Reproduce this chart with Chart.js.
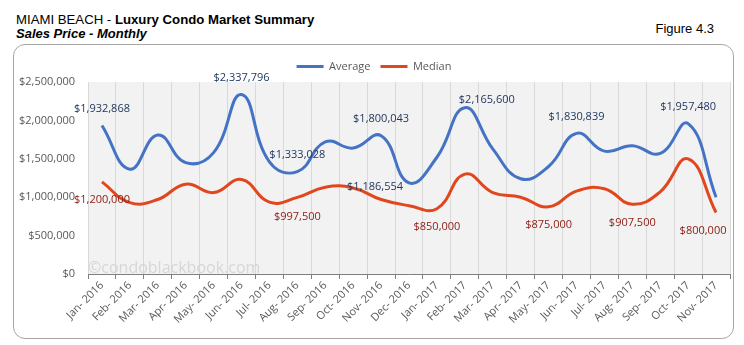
<!DOCTYPE html>
<html>
<head>
<meta charset="utf-8">
<script src="https://cdn.jsdelivr.net/npm/chart.js@4.4.0/dist/chart.umd.min.js"></script>
<style>
  body { margin: 0; background: #fff; }
  #wrap { position: relative; width: 744px; height: 345px; overflow: hidden; font-family: "Liberation Sans", Arial, sans-serif; }
  #frame { position: absolute; left: 13px; top: 44px; width: 721px; height: 295px; box-sizing: border-box; border: 1px solid #a6a6a6; border-radius: 12px; }
  #title { position: absolute; left: 16px; top: 12px; font-size: 13.2px; line-height: 16px; color: #000; white-space: nowrap; }
  #title b { font-weight: bold; }
  #subtitle { position: absolute; left: 16px; top: 26px; font-size: 13px; line-height: 15px; font-weight: bold; font-style: italic; white-space: nowrap; }
  #figure { position: absolute; right: 30px; top: 21px; font-size: 13px; line-height: 15px; white-space: nowrap; }
  canvas { position: absolute; left: 0; top: 0; }
</style>
</head>
<body>
<div id="wrap">
  <div id="frame"></div>
  <div id="title">MIAMI BEACH - <b>Luxury Condo Market Summary</b></div>
  <div id="subtitle">Sales Price - Monthly</div>
  <div id="figure">Figure 4.3</div>
  <canvas id="chart" width="744" height="345"></canvas>
</div>
<script>
// ---- data ----
const months = [
  "Jan- 2016", "Feb- 2016", "Mar- 2016", "Apr- 2016", "May- 2016", "Jun- 2016",
  "Jul- 2016", "Aug- 2016", "Sep- 2016", "Oct- 2016", "Nov- 2016", "Dec- 2016",
  "Jan- 2017", "Feb- 2017", "Mar- 2017", "Apr- 2017", "May- 2017", "Jun- 2017",
  "Jul- 2017", "Aug- 2017", "Sep- 2017", "Oct- 2017", "Nov- 2017"
];
const averagePrice = [
  1932868, 1365000, 1810000, 1450000, 1580000, 2337796,
  1460000, 1333028, 1720000, 1640000, 1800043, 1186554,
  1520000, 2165600, 1630000, 1240000, 1400000, 1830839,
  1600000, 1670000, 1570000, 1957480, 1000000
];
const medianPrice = [
  1200000, 930000, 970000, 1170000, 1060000, 1230000,
  935000, 997500, 1130000, 1120000, 970000, 890000,
  850000, 1300000, 1060000, 1000000, 875000, 1080000,
  1110000, 907500, 1070000, 1500000, 800000
];
const yTicks = [0, 500000, 1000000, 1500000, 2000000, 2500000];
// points that carry a value label
const averageLabelIdx = [0, 5, 7, 10, 11, 13, 17, 21];
const medianLabelIdx = [0, 7, 12, 16, 19, 22];

// label placement (pixels from the point)
const labelOffsets = {
  0: { 0: [0, -17], 5: [0, -17], 7: [0, -17], 10: [0, -17], 11: [-6, 4, "right"], 13: [22, -8], 17: [0, -17], 21: [0, -17] },
  1: { 0: [0, 18], 7: [0, 19], 12: [0, 18], 16: [0, 18], 19: [0, 19], 22: [-13, 18] }
};

const FONT = "'Open Sans', sans-serif";
const money = v => "$" + Number(v).toLocaleString("en-US");

const plotBg = {
  id: "plotBg",
  beforeDraw(chart) {
    const { ctx, chartArea: a } = chart;
    ctx.save();
    ctx.fillStyle = "#f2f2f2";
    ctx.fillRect(a.left, a.top, a.right - a.left, a.bottom - a.top);
    ctx.restore();
  }
};

const watermark = {
  id: "watermark",
  beforeDatasetsDraw(chart) {
    const { ctx, chartArea: a } = chart;
    ctx.save();
    ctx.font = "16px " + FONT;
    ctx.fillStyle = "#d6d6d6";
    ctx.textAlign = "left";
    ctx.textBaseline = "alphabetic";
    ctx.fillText("\u00a9condoblackbook.com", a.left, a.bottom - 1);
    ctx.restore();
  }
};

const valueLabels = {
  id: "valueLabels",
  afterDatasetsDraw(chart) {
    const ctx = chart.ctx;
    const lists = [averageLabelIdx, medianLabelIdx];
    const colors = ["#22385e", "#8b1a10"];
    ctx.save();
    ctx.font = "11px " + FONT;
    ctx.textBaseline = "middle";
    lists.forEach((idxs, ds) => {
      const meta = chart.getDatasetMeta(ds);
      ctx.fillStyle = colors[ds];
      idxs.forEach(i => {
        const pt = meta.data[i];
        const off = labelOffsets[ds][i] || [0, 0];
        ctx.textAlign = off[2] || "center";
        ctx.fillText(money(chart.data.datasets[ds].data[i]), pt.x + off[0], pt.y + off[1]);
      });
    });
    ctx.restore();
  }
};

new Chart(document.getElementById("chart"), {
  type: "line",
  data: {
    labels: months,
    datasets: [
      { label: "Average", data: averagePrice, borderColor: "#4472c4", backgroundColor: "#4472c4" },
      { label: "Median", data: medianPrice, borderColor: "#e2461c", backgroundColor: "#e2461c" }
    ]
  },
  options: {
    responsive: false,
    animation: false,
    layout: { padding: { left: 18, right: 14, top: 51, bottom: 0 } },
    elements: {
      line: { borderWidth: 3, tension: 0.45, fill: false, capBezierPoints: true },
      point: { radius: 0, hoverRadius: 0 }
    },
    plugins: {
      tooltip: { enabled: false },
      legend: {
        position: "top",
        labels: {
          boxWidth: 27,
          boxHeight: 3,
          padding: 10,
          color: "#595959",
          font: { family: FONT, size: 11 },
          generateLabels: chart =>
            Chart.defaults.plugins.legend.labels.generateLabels(chart).map(l => ({ ...l, lineWidth: 0 }))
        }
      }
    },
    scales: {
      x: {
        offset: true,
        grid: { offset: true, color: "#d9d9d9", tickColor: "#7f7f7f", tickLength: 5 },
        border: { color: "#7f7f7f" },
        ticks: { autoSkip: false, maxRotation: 45, minRotation: 45, padding: 0, color: "#595959", font: { family: FONT, size: 11 } },
        afterFit: s => { s.height = 71; }
      },
      y: {
        min: 0,
        max: 2500000,
        afterBuildTicks: s => { s.ticks = yTicks.map(v => ({ value: v })); },
        grid: { display: false, drawTicks: false },
        border: { display: false },
        ticks: { padding: 13, color: "#595959", font: { family: FONT, size: 11 }, callback: v => money(v) },
        afterFit: s => { s.width = 70; }
      }
    }
  },
  plugins: [plotBg, watermark, valueLabels]
});
</script>
</body>
</html>
